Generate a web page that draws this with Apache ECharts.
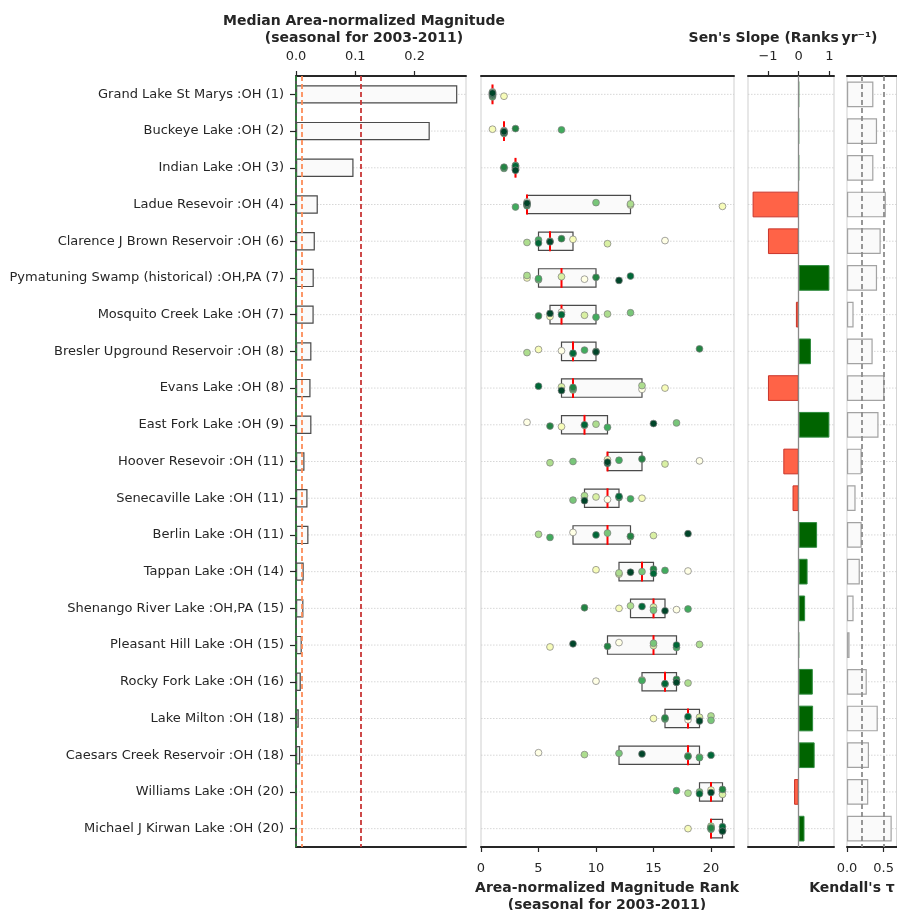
<!DOCTYPE html>
<html>
<head>
<meta charset="utf-8">
<script src="https://cdn.jsdelivr.net/npm/echarts@6/dist/echarts.min.js"></script>
<style>
  html, body { margin: 0; padding: 0; background: #ffffff; }
  #chart { width: 897px; height: 910px; }
</style>
</head>
<body>
<div id="chart"></div>
<script>
// ---- data ---------------------------------------------------------------
const lakes = [
  'Grand Lake St Marys', 'Buckeye Lake', 'Indian Lake', 'Ladue Resevoir',
  'Clarence J Brown Reservoir', 'Pymatuning Swamp (historical)', 'Mosquito Creek Lake',
  'Bresler Upground Reservoir', 'Evans Lake', 'East Fork Lake', 'Hoover Resevoir',
  'Senecaville Lake', 'Berlin Lake', 'Tappan Lake', 'Shenango River Lake',
  'Pleasant Hill Lake', 'Rocky Fork Lake', 'Lake Milton', 'Caesars Creek Reservoir',
  'Williams Lake', 'Michael J Kirwan Lake'
];
const states = ['OH', 'OH', 'OH', 'OH', 'OH', 'OH,PA', 'OH', 'OH', 'OH', 'OH', 'OH',
  'OH', 'OH', 'OH', 'OH,PA', 'OH', 'OH', 'OH', 'OH', 'OH', 'OH'];
const years = [2003, 2004, 2005, 2006, 2007, 2008, 2009, 2010, 2011];

// median area-normalized magnitude per lake
const medianMagnitude = [0.272, 0.2256, 0.097, 0.0368, 0.0318, 0.030, 0.0298, 0.026,
  0.0245, 0.026, 0.0143, 0.0194, 0.021, 0.013, 0.0125, 0.0098, 0.0081, 0.0047, 0.007,
  0.0012, 0.0008];
// reference levels on the magnitude panel
const magnitudeRefLines = [0.0013, 0.0105, 0.11];
const magnitudeRefColors = ['#2f7d3a', '#fc8d59', '#c83737'];

// seasonal magnitude rank for each lake, one value per year (2003..2011)
const ranks = [
  [1, 2, 1, 1, 1, 1, 1, 1, 1],
  [2, 1, 2, 2, 2, 7, 3, 2, 2],
  [3, 3, 3, 3, 3, 2, 2, 3, 3],
  [4, 21, 13, 13, 10, 3, 4, 4, 4],
  [16, 8, 11, 4, 6, 5, 7, 5, 6],
  [9, 4, 7, 4, 5, 5, 10, 13, 12],
  [7, 6, 9, 11, 13, 10, 5, 7, 6],
  [7, 5, 8, 4, 10, 9, 19, 8, 10],
  [14, 16, 7, 14, 8, 8, 8, 5, 7],
  [4, 7, 9, 10, 17, 11, 6, 9, 15],
  [19, 11, 16, 6, 8, 12, 14, 11, 11],
  [11, 14, 10, 9, 8, 13, 12, 12, 9],
  [8, 13, 15, 5, 11, 6, 13, 10, 18],
  [18, 10, 12, 12, 14, 16, 15, 15, 13],
  [17, 12, 15, 13, 15, 18, 9, 14, 16],
  [12, 6, 15, 19, 15, 17, 11, 17, 8],
  [10, 14, 16, 18, 17, 14, 17, 16, 17],
  [18, 15, 19, 20, 20, 16, 16, 18, 19],
  [5, 19, 18, 9, 12, 19, 18, 20, 14],
  [21, 20, 21, 18, 19, 17, 21, 19, 20],
  [21, 18, 20, 20, 21, 20, 20, 21, 21]
];

// Sen's slope of the rank series (ranks per year)
const sensSlope = [0, 0, 0, -1.5, -1.0, 1.0, -0.09, 0.4, -1.0, 1.0, -0.5, -0.2, 0.6,
  0.29, 0.21, 0, 0.46, 0.47, 0.52, -0.15, 0.19];
// Kendall's tau (magnitude) of the rank series
const kendallTau = [0.36, 0.41, 0.36, 0.53, 0.46, 0.41, 0.09, 0.35, 0.51, 0.43, 0.2,
  0.117, 0.2, 0.175, 0.09, 0.035, 0.27, 0.42, 0.3, 0.29, 0.61];
const tauRefLines = [0.2, 0.5];

// tick values
const magnitudeTicks = [0, 0.1, 0.2];
const rankTicks = [0, 5, 10, 15, 20];
const slopeTicks = [-1, 0, 1];
const tauTicks = [0, 0.5];

// one colour per year, light (early) to dark (late)
const yearColors = ['#ffffe5', '#f7fcb9', '#d9f0a3', '#addd8e', '#78c679', '#41ab5d',
  '#238443', '#006837', '#004529'];

// ---- helpers --------------------------------------------------------------
const FONT = '"DejaVu Sans", sans-serif';
const TXT = '#262626';

function percentile(sorted, p) {
  const pos = (sorted.length - 1) * p;
  const lo = Math.floor(pos), hi = Math.ceil(pos);
  return sorted[lo] + (sorted[hi] - sorted[lo]) * (pos - lo);
}
const stats = ranks.map(r => {
  const s = r.slice().sort((a, b) => a - b);
  return { q1: percentile(s, 0.25), med: percentile(s, 0.5), q3: percentile(s, 0.75) };
});
const labels = lakes.map((n, i) => `${n} :${states[i]} (${Math.round(stats[i].med)})`);

// small vertical spread so coincident points stay visible
function spread(yearIdx, row) {
  return ((((yearIdx * 7 + row * 3) % 9) - 4) * 0.017);
}

const boxData = stats.map((s, i) => [s.q1, s.q3, s.med, i]);
const pointData = [];
years.forEach((y, yi) => {
  ranks.forEach((r, row) => pointData.push([r[yi], row, yi]));
});

// ---- layout ---------------------------------------------------------------
const TOP = 76, HEIGHT = 771;
const grids = [
  { left: 296, top: TOP, width: 170, height: HEIGHT },
  { left: 481, top: TOP, width: 253, height: HEIGHT },
  { left: 748, top: TOP, width: 86, height: HEIGHT },
  { left: 847, top: TOP, width: 52, height: HEIGHT }
].map(g => Object.assign(g, { show: true, borderColor: '#cfcfcf', borderWidth: 1, containLabel: false }));

const spine = { show: true, lineStyle: { color: '#262626', width: 2 } };
const tickStyle = { show: true, inside: false, length: 5, lineStyle: { color: '#262626', width: 1.2 } };
const labelStyle = { color: TXT, fontFamily: FONT, fontSize: 13 };

function xAxisPair(gi, min, max, labelPos, ticks, fmt) {
  const withLabels = {
    type: 'value', gridIndex: gi, position: labelPos, min: min, max: max,
    axisLine: spine,
    axisTick: Object.assign({ customValues: ticks }, tickStyle),
    axisLabel: Object.assign({ customValues: ticks, formatter: fmt,
      margin: labelPos === 'top' ? 13 : 15 }, labelStyle),
    splitLine: { show: false }
  };
  const plain = {
    type: 'value', gridIndex: gi, position: labelPos === 'top' ? 'bottom' : 'top',
    min: min, max: max, axisLine: spine, axisTick: { show: false },
    axisLabel: { show: false }, splitLine: { show: false }
  };
  return [withLabels, plain];
}

const xAxes = [].concat(
  xAxisPair(0, 0, 0.2867, 'top', magnitudeTicks, v => v.toFixed(1)),
  xAxisPair(1, 0, 22, 'bottom', rankTicks, v => String(v)),
  xAxisPair(2, -1.65, 1.15, 'top', slopeTicks, v => (v < 0 ? '\u2212' + Math.abs(v) : String(v))),
  xAxisPair(3, 0, 0.677, 'bottom', tauTicks, v => v.toFixed(1))
);
// xAxis indices: panel p -> labelled axis 2p, plain axis 2p+1

const yAxes = [0, 1, 2, 3].map(gi => ({
  type: 'category', gridIndex: gi, data: lakes, inverse: true,
  axisLine: gi === 0 ? { show: true, lineStyle: { color: '#262626', width: 1.5 } } : { show: false },
  axisTick: gi === 0 ? { show: true, alignWithLabel: true, length: 6, lineStyle: { color: '#262626', width: 1.2 } } : { show: false },
  axisLabel: gi === 0 ? Object.assign({ formatter: (v, i) => labels[i], margin: 12 }, labelStyle) : { show: false },
  splitLine: { show: false }
}));

// dotted row guides across one panel
function rowGuides(gi) {
  return {
    type: 'custom', xAxisIndex: 2 * gi, yAxisIndex: gi, z: 1, silent: true,
    data: lakes.map((n, i) => [xAxes[2 * gi].min, i]),
    encode: { x: 0, y: 1 },
    renderItem: (params, api) => {
      const cs = params.coordSys;
      const y = api.coord([api.value(0), api.value(1)])[1];
      return {
        type: 'line', shape: { x1: cs.x, y1: y, x2: cs.x + cs.width, y2: y },
        style: { stroke: '#cdcdcd', lineWidth: 0.8, lineDash: [1.5, 1.5] }
      };
    }
  };
}

function vLines(values, colors, width, dash) {
  return {
    silent: true, symbol: 'none', animation: false,
    label: { show: false },
    data: values.map((v, i) => ({
      xAxis: v,
      lineStyle: { color: colors[i], width: width, type: dash }
    }))
  };
}

const series = [
  rowGuides(0), rowGuides(1), rowGuides(2), rowGuides(3),

  // panel 1: median magnitude
  {
    type: 'bar', xAxisIndex: 0, yAxisIndex: 0, barWidth: '50%', z: 2,
    data: medianMagnitude,
    itemStyle: { color: '#fafafa', borderColor: '#4a4a4a', borderWidth: 1.2 },
    markLine: vLines(magnitudeRefLines, magnitudeRefColors, 1.8, [5, 3])
  },

  // panel 2: interquartile boxes with red medians
  {
    type: 'custom', xAxisIndex: 2, yAxisIndex: 1, z: 3,
    data: boxData, encode: { x: [0, 1, 2], y: 3 },
    renderItem: (params, api) => {
      const band = api.size([0, 1])[1];
      const a = api.coord([api.value(0), api.value(3)]);
      const b = api.coord([api.value(1), api.value(3)]);
      const m = api.coord([api.value(2), api.value(3)]);
      const h = band * 0.5;
      return {
        type: 'group',
        children: [
          { type: 'rect', shape: { x: a[0], y: a[1] - h / 2, width: b[0] - a[0], height: h },
            style: { fill: '#fafafa', stroke: '#4a4a4a', lineWidth: 1.2 } },
          { type: 'line', shape: { x1: m[0], y1: m[1] - band * 0.27, x2: m[0], y2: m[1] + band * 0.27 },
            style: { stroke: '#ff0000', lineWidth: 2 } }
        ]
      };
    }
  },
  // panel 2: yearly ranks
  {
    type: 'custom', xAxisIndex: 2, yAxisIndex: 1, z: 4,
    data: pointData, encode: { x: 0, y: 1 },
    renderItem: (params, api) => {
      const band = api.size([0, 1])[1];
      const row = api.value(1), yi = api.value(2);
      const c = api.coord([api.value(0), row]);
      return {
        type: 'circle',
        shape: { cx: c[0], cy: c[1] + spread(yi, row) * band, r: 3.4 },
        style: { fill: yearColors[yi], stroke: '#7d7d7d', lineWidth: 0.7 }
      };
    }
  },

  // panel 3: Sen's slope
  {
    type: 'bar', xAxisIndex: 4, yAxisIndex: 2, barWidth: '70%', z: 2,
    data: sensSlope.map(v => ({
      value: v,
      itemStyle: v < 0
        ? { color: '#ff6347', borderColor: '#c9342a', borderWidth: 1 }
        : { color: '#006400', borderColor: '#2e8b3e', borderWidth: 1 }
    })),
    markLine: vLines([0], ['#8a8a8a'], 1.3, 'solid')
  },

  // panel 4: Kendall's tau
  {
    type: 'bar', xAxisIndex: 6, yAxisIndex: 3, barWidth: '70%', z: 2,
    data: kendallTau,
    itemStyle: { color: '#fafafa', borderColor: '#a3a3a3', borderWidth: 1.2 },
    markLine: vLines(tauRefLines, ['#8c8c8c', '#8c8c8c'], 1.8, [5, 3])
  }
];

const titleFont = { fontFamily: FONT, fontSize: 14, fontWeight: 'bold', fill: TXT, textAlign: 'center', lineHeight: 17 };
const graphic = [
  { type: 'text', x: 364, y: 13,
    style: Object.assign({ text: 'Median Area-normalized Magnitude\n(seasonal for 2003-2011)' }, titleFont) },
  { type: 'text', x: 783, y: 30,
    style: Object.assign({ text: 'Sen\'s Slope (Ranks\u2009yr\u207b\u00b9)' }, titleFont) },
  { type: 'text', x: 607, y: 880,
    style: Object.assign({ text: 'Area-normalized Magnitude Rank\n(seasonal for 2003-2011)' }, titleFont) },
  { type: 'text', x: 852, y: 880,
    style: Object.assign({ text: 'Kendall\'s \u03c4' }, titleFont) }
];

const chart = echarts.init(document.getElementById('chart'), null, { renderer: 'canvas' });
chart.setOption({
  backgroundColor: '#ffffff',
  animation: false,
  grid: grids,
  xAxis: xAxes,
  yAxis: yAxes,
  series: series,
  graphic: graphic
});
</script>
</body>
</html>
